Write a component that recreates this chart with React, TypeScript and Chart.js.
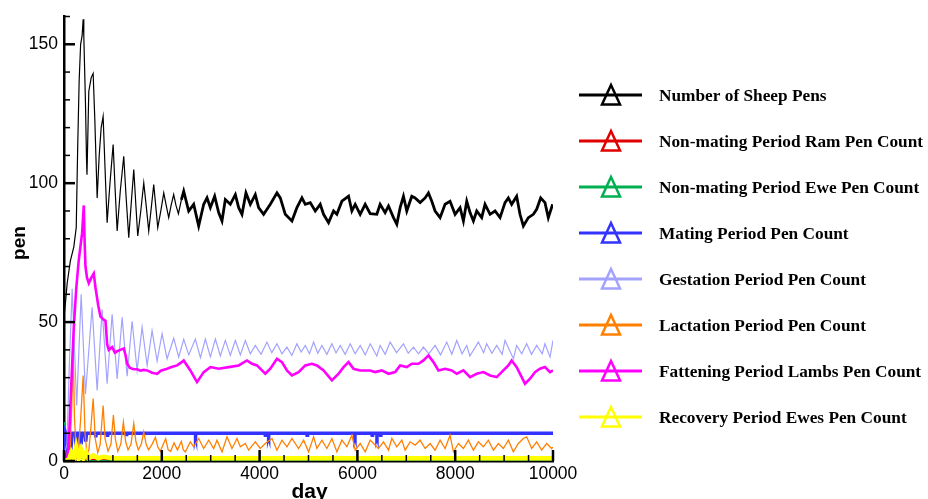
import React, { useEffect, useRef } from 'react';
import { Chart, registerables } from 'chart.js';

Chart.register(...registerables);

// ---------- labels / ticks ----------
const SERIES_LABELS = [
  'Number of Sheep Pens',
  'Non-mating Period Ram Pen Count',
  'Non-mating Period Ewe Pen Count',
  'Mating Period Pen Count',
  'Gestation Period Pen Count',
  'Lactation Period Pen Count',
  'Fattening Period Lambs Pen Count',
  'Recovery Period Ewes Pen Count',
];
const SERIES_COLORS = ['#000000', '#e00000', '#00b050', '#3333ff', '#a3a3ff', '#ff8000', '#ff00ff', '#ffff00'];
const X_MAJOR_TICKS = [0, 2000, 4000, 6000, 8000, 10000];
const X_MINOR_TICKS = [500, 1000, 1500, 2500, 3000, 3500, 4500, 5000, 5500, 6500, 7000, 7500, 8500, 9000, 9500];
const Y_MAJOR_TICKS = [0, 50, 100, 150];
const Y_MINOR_TICKS = [10, 20, 30, 40, 60, 70, 80, 90, 110, 120, 130, 140, 160];

// ---------- series data (day, value) ----------
const blackDays = [0, 30, 65, 130, 200, 250, 280, 310, 340, 370, 392, 405, 439, 460, 470, 507, 556, 596, 630, 678, 720, 760, 800, 840, 882, 940, 1005, 1045, 1087, 1150, 1222, 1270, 1324, 1380, 1427, 1470, 1508, 1570, 1631, 1680, 1733, 1790, 1835, 1870, 1917, 1980, 2040, 2090, 2141, 2190, 2243, 2290, 2340, 2400, 2448, 2550, 2652, 2754, 2857, 2925, 2993, 3081, 3163, 3231, 3299, 3401, 3504, 3572, 3640, 3721, 3810, 3912, 3980, 4082, 4219, 4355, 4423, 4525, 4661, 4763, 4866, 4934, 5036, 5138, 5240, 5308, 5410, 5512, 5580, 5683, 5819, 5887, 5955, 6057, 6159, 6262, 6397, 6465, 6567, 6636, 6738, 6806, 6874, 6942, 7010, 7112, 7180, 7283, 7385, 7453, 7521, 7589, 7691, 7793, 7895, 7998, 8100, 8168, 8236, 8304, 8372, 8440, 8542, 8610, 8713, 8815, 8917, 9019, 9087, 9155, 9257, 9325, 9394, 9496, 9598, 9666, 9748, 9836, 9904, 9993];
const blackVals = [52, 57, 64, 72, 77, 84, 113, 137, 150, 153, 159, 153, 129, 109, 103, 133, 138, 139.5, 123, 94.7, 110, 120, 124, 105, 85.8, 100, 113.9, 98, 82.8, 97, 109.7, 95, 80.4, 94, 104.9, 92, 81, 90, 100.1, 92, 82.8, 92, 99.5, 93, 84, 90, 96.5, 92, 87.6, 92, 95.9, 92, 89, 94, 97.1, 90.0, 92.4, 84.6, 92.4, 94.7, 91.2, 95.3, 89.4, 86.4, 94.1, 92.4, 95.9, 91.2, 88.8, 96.5, 92.4, 95.9, 91.2, 88.8, 92.4, 96.5, 94.7, 88.8, 86.4, 91.2, 94.7, 92.4, 93.0, 90.0, 92.4, 88.8, 85.8, 90.0, 88.8, 93.5, 95.3, 90.0, 92.4, 88.8, 92.4, 89.0, 88.8, 92.4, 89.4, 91.8, 87.6, 85.2, 91.2, 95.3, 90.0, 95.3, 94.7, 93.0, 94.7, 96.5, 93.5, 90.0, 87.6, 92.4, 93.5, 88.8, 91.2, 86.4, 93.5, 89.4, 86.4, 90.0, 87.6, 92.4, 88.8, 90.0, 87.6, 93.0, 94.7, 92.4, 95.3, 88.8, 84.6, 87.6, 88.8, 90.6, 94.7, 93.0, 87.6, 92.4];

const redDays = [0, 100, 200, 300, 400, 500, 600, 800, 10000];
const redVals = [0, 1, 0.5, 2, 0.5, 1, 0.5, 0.5, 0.5];

const greenDays = [0, 20, 40, 60, 80, 10000];
const greenVals = [14, 12, 5, 1, 0, 0];

const blueDays = [0, 15, 40, 60, 85, 120, 140, 165, 230, 250, 270, 330, 350, 370, 430, 445, 460, 640, 650, 660, 880, 890, 900, 1270, 1280, 1290, 2680, 2690, 2700, 4105, 4115, 4125, 4175, 4185, 4195, 4960, 4970, 4980, 5940, 5950, 5960, 6290, 6300, 6310, 6390, 6400, 6410, 6460, 6470, 6480, 10000];
const blueVals = [0, 11, 10, 3, 10, 10, 4, 10, 10, 5, 10, 10, 6, 10, 10, 7, 10, 10, 8.5, 10, 10, 8.7, 10, 10, 9, 10, 10, 9.2, 10, 10, 9.3, 10, 10, 9.3, 10, 10, 9.3, 10, 10, 9.3, 10, 10, 9.3, 10, 10, 9.3, 10, 10, 9.3, 10, 10];

const gestDays = [0, 60, 110, 167, 260, 351, 439, 575, 678, 780, 882, 984, 1087, 1189, 1291, 1393, 1495, 1597, 1700, 1801, 1904, 2006, 2108, 2244, 2346, 2448, 2551, 2686, 2790, 2891, 2993, 3095, 3197, 3299, 3401, 3504, 3606, 3708, 3810, 3912, 4030, 4150, 4250, 4355, 4457, 4559, 4660, 4763, 4850, 4934, 5020, 5104, 5190, 5274, 5376, 5478, 5563, 5649, 5750, 5853, 5955, 6057, 6160, 6262, 6397, 6465, 6568, 6670, 6800, 6942, 7040, 7146, 7250, 7351, 7460, 7589, 7700, 7827, 7930, 8032, 8140, 8236, 8300, 8474, 8580, 8644, 8750, 8849, 8960, 9019, 9190, 9257, 9360, 9462, 9560, 9666, 9780, 9836, 9940, 10000];
const gestVals = [2, 6, 35, 62, 20, 60, 24, 55.3, 25.4, 54.5, 27.8, 52.8, 29.5, 51.7, 30.5, 50.3, 32.6, 48.2, 34.4, 46.9, 36.0, 45.8, 36.8, 44.2, 37.4, 43.8, 38.2, 43.9, 37.2, 43.9, 37.5, 43.9, 37.8, 43.4, 38.0, 43.4, 38.2, 43.4, 38.6, 41.6, 38.4, 42.8, 39.0, 42.2, 38.6, 41.0, 38.0, 42.2, 39.2, 41.6, 38.6, 42.8, 38.8, 41.6, 38.4, 42.2, 38.9, 41.6, 38.4, 42.2, 38.6, 41.6, 38.2, 42.2, 37.8, 41.6, 38.4, 42.8, 39.0, 42.2, 38.8, 41.0, 38.6, 41.0, 38.6, 41.6, 38.2, 42.8, 38.4, 43.4, 38.6, 41.6, 37.8, 42.8, 39.0, 42.2, 38.8, 41.6, 38.4, 43.4, 36.8, 41.6, 38.6, 42.2, 38.4, 41.6, 38.6, 42.2, 37.4, 43.4];

const lactDays = [0, 120, 160, 187, 215, 255, 300, 340, 392, 430, 470, 510, 550, 596, 640, 690, 740, 800, 840, 900, 960, 1010, 1050, 1100, 1160, 1215, 1260, 1310, 1370, 1427, 1470, 1520, 1580, 1631, 1680, 1730, 1800, 1869, 1920, 1970, 2030, 2080, 2130, 2180, 2250, 2320, 2400, 2440, 2482, 2584, 2652, 2754, 2857, 2959, 3061, 3129, 3231, 3333, 3435, 3538, 3606, 3708, 3776, 3912, 4014, 4116, 4253, 4355, 4457, 4559, 4661, 4797, 4900, 5002, 5104, 5172, 5274, 5376, 5478, 5581, 5683, 5785, 5887, 5955, 6057, 6159, 6262, 6431, 6533, 6636, 6704, 6806, 6908, 6976, 7078, 7180, 7283, 7385, 7487, 7589, 7691, 7793, 7895, 7964, 8066, 8168, 8270, 8372, 8474, 8576, 8679, 8781, 8883, 8985, 9087, 9189, 9291, 9394, 9462, 9564, 9666, 9768, 9870, 9972, 10000];
const lactVals = [0, 2, 20, 41, 15, 1.5, 5, 15, 30.8, 10, 2.5, 4, 12, 22.5, 8, 3, 6, 20, 8, 3.5, 6, 16.5, 8, 3.5, 6, 14, 7, 4, 6, 13.5, 7, 4, 6, 10.5, 6, 4, 6, 8.5, 5, 3.5, 6, 8, 4, 3.5, 6.5, 4, 7, 4, 3.3, 6.9, 5.1, 8.1, 4.5, 7.5, 4.5, 7.5, 3.3, 8.7, 4.5, 8.1, 5.1, 6.3, 3.9, 6.9, 4.5, 6.3, 8.1, 3.9, 7.5, 5.1, 8.1, 4.5, 7.5, 3.3, 8.7, 4.5, 7.5, 4.5, 8.1, 3.3, 7.5, 5.1, 9.3, 3.9, 6.3, 3.3, 7.5, 4.5, 6.9, 3.9, 8.1, 5.1, 7.5, 3.9, 6.9, 5.7, 7.5, 4.5, 6.3, 3.9, 7.5, 4.5, 9.3, 3.3, 6.3, 4.5, 7.5, 3.9, 6.9, 5.1, 7.5, 3.9, 6.3, 4.5, 7.5, 3.3, 6.3, 8.1, 8.7, 4.5, 6.9, 3.9, 6.3, 4.5, 5.0];

const fatDays = [0, 60, 100, 150, 200, 250, 300, 370, 405, 420, 439, 470, 507, 560, 609, 643, 700, 746, 800, 848, 882, 916, 984, 1040, 1087, 1150, 1222, 1260, 1291, 1350, 1427, 1500, 1560, 1630, 1700, 1800, 1905, 1980, 2108, 2200, 2312, 2400, 2448, 2584, 2720, 2857, 2993, 3163, 3367, 3572, 3742, 3844, 3946, 4116, 4219, 4355, 4457, 4559, 4661, 4797, 4934, 5070, 5172, 5308, 5478, 5615, 5717, 5819, 5921, 6057, 6194, 6261, 6363, 6499, 6636, 6772, 6874, 7010, 7112, 7249, 7351, 7453, 7555, 7657, 7793, 7930, 8032, 8168, 8304, 8440, 8576, 8713, 8849, 8985, 9087, 9155, 9257, 9360, 9428, 9530, 9632, 9734, 9836, 9938, 10000];
const fatVals = [0, 0, 7, 28, 48, 62, 72, 82, 92, 80, 70, 66, 64, 66, 67.5, 62.5, 56, 52, 51, 50.5, 42, 40, 41, 39, 39.5, 40, 40.5, 38, 35, 33.5, 33, 33, 32.5, 32.8, 32.6, 31.8, 31.4, 32.5, 33.2, 33.8, 34.4, 35.5, 36.2, 32.6, 28.4, 32.0, 33.8, 33.2, 33.8, 34.4, 36.2, 35.0, 34.4, 31.4, 33.2, 36.8, 35.6, 32.6, 30.8, 32.0, 34.4, 35.0, 34.4, 32.6, 29.0, 31.4, 33.8, 35.6, 33.2, 32.6, 32.6, 32.6, 32.0, 32.6, 31.4, 32.0, 34.4, 33.8, 35.0, 35.0, 36.2, 38.0, 35.6, 32.6, 33.2, 32.6, 31.4, 32.6, 30.2, 31.4, 32.0, 30.8, 30.2, 32.6, 34.4, 36.2, 33.8, 30.2, 27.8, 29.6, 32.0, 33.2, 33.8, 32.0, 32.6];

const recDays = [0, 100, 150, 200, 250, 300, 350, 400, 450, 500, 600, 700, 800, 1000, 10000];
const recVals = [0, 0.5, 3, 1, 5, 1, 4, 1, 3, 1, 2, 1, 1.5, 1, 1];

const SERIES_DAYS = [blackDays, redDays, greenDays, blueDays, gestDays, lactDays, fatDays, recDays];
const SERIES_VALS = [blackVals, redVals, greenVals, blueVals, gestVals, lactVals, fatVals, recVals];
const SERIES_WIDTHS = [1.2, 1.5, 1.5, 3.5, 1.2, 1.3, 2.6, 4.5];

const FONT_SANS = '"Liberation Sans", Arial, sans-serif';
const FONT_SERIF = '"Liberation Serif", "Times New Roman", serif';

const decorPlugin = {
  id: 'decor',
  afterDatasetsDraw(chart: any) {
    const ctx = chart.ctx as CanvasRenderingContext2D;
    const xs = chart.scales.x;
    const ys = chart.scales.y;
    const { left, bottom } = chart.chartArea;
    ctx.save();
    ctx.strokeStyle = '#000';
    ctx.lineCap = 'butt';
    const drawX = (v: number, len: number, w: number) => {
      const px = xs.getPixelForValue(v);
      ctx.lineWidth = w;
      ctx.beginPath();
      ctx.moveTo(px, bottom);
      ctx.lineTo(px, bottom - len);
      ctx.stroke();
    };
    const drawY = (v: number, len: number, w: number) => {
      const py = ys.getPixelForValue(v);
      ctx.lineWidth = w;
      ctx.beginPath();
      ctx.moveTo(left, py);
      ctx.lineTo(left + len, py);
      ctx.stroke();
    };
    X_MAJOR_TICKS.forEach((v) => drawX(v, 11, 2.5));
    X_MINOR_TICKS.forEach((v) => drawX(v, 6, 1.5));
    Y_MAJOR_TICKS.forEach((v) => drawY(v, 11, 2.5));
    Y_MINOR_TICKS.forEach((v) => drawY(v, 6, 1.5));
    ctx.restore();
  },
  afterDraw(chart: any) {
    const ctx = chart.ctx as CanvasRenderingContext2D;
    ctx.save();
    // axis titles
    ctx.fillStyle = '#000';
    ctx.font = `bold 21px ${FONT_SANS}`;
    ctx.textAlign = 'center';
    ctx.textBaseline = 'alphabetic';
    const xs = chart.scales.x;
    ctx.fillText('day', (xs.left + xs.right) / 2 + 1, 498);
    ctx.save();
    ctx.translate(25, 243);
    ctx.rotate(-Math.PI / 2);
    ctx.font = `bold 19px ${FONT_SANS}`;
    ctx.fillText('pen', 0, 0);
    ctx.restore();

    // legend
    chart.data.datasets.forEach((ds: any, i: number) => {
      const y = 95 + i * 46;
      ctx.strokeStyle = ds.borderColor;
      ctx.lineWidth = 3;
      ctx.beginPath();
      ctx.moveTo(579, y);
      ctx.lineTo(642, y);
      ctx.stroke();
      ctx.lineWidth = 2.5;
      ctx.lineJoin = 'miter';
      ctx.beginPath();
      ctx.moveTo(611, y - 10);
      ctx.lineTo(620, y + 9.5);
      ctx.lineTo(602, y + 9.5);
      ctx.closePath();
      ctx.stroke();
      ctx.fillStyle = '#000';
      ctx.font = `bold 17.3px ${FONT_SERIF}`;
      ctx.textAlign = 'left';
      ctx.textBaseline = 'alphabetic';
      ctx.fillText(ds.label, 659, y + 6);
    });
    ctx.restore();
  },
};

export default function App() {
  const ref = useRef<HTMLCanvasElement>(null);
  useEffect(() => {
    if (!ref.current) return;
    const datasets = SERIES_LABELS.map((label, i) => ({
      label,
      data: SERIES_DAYS[i].map((d, j) => ({ x: d, y: SERIES_VALS[i][j] })),
      borderColor: SERIES_COLORS[i],
      backgroundColor: SERIES_COLORS[i],
      borderWidth: SERIES_WIDTHS[i],
      pointRadius: 0,
      tension: 0,
      fill: false,
      order: SERIES_LABELS.length - 1 - i,
      segment: i === 0 ? { borderWidth: (c: any) => (c.p0.parsed.x >= 2400 ? 2.8 : 1.2) } : undefined,
    }));
    const chart = new Chart(ref.current, {
      type: 'line',
      data: { datasets },
      options: {
        animation: false,
        responsive: false,
        maintainAspectRatio: false,
        layout: { padding: { left: 0, right: 375, top: 14, bottom: 0 } },
        plugins: { legend: { display: false }, tooltip: { enabled: false } },
        scales: {
          x: {
            type: 'linear',
            min: 0,
            max: 10000,
            grid: { display: false, drawTicks: false },
            border: { display: true, color: '#000', width: 2.5 },
            ticks: {
              stepSize: 2000,
              color: '#000',
              padding: 3,
              maxRotation: 0,
              autoSkip: false,
              font: { family: FONT_SANS, size: 17.5 },
              callback: (v: any) => String(v),
            },
            afterFit: (s: any) => {
              s.height = 38;
            },
          },
          y: {
            type: 'linear',
            min: 0,
            max: 160,
            grid: { display: false, drawTicks: false },
            border: { display: true, color: '#000', width: 2.5 },
            ticks: {
              stepSize: 50,
              color: '#000',
              padding: 6,
              font: { family: FONT_SANS, size: 17.5 },
              callback: (v: any) => String(v),
            },
            afterBuildTicks: (s: any) => {
              s.ticks = s.ticks.filter((t: any) => t.value % 50 === 0);
            },
            afterFit: (s: any) => {
              s.width = 64;
            },
          },
        },
      },
      plugins: [decorPlugin],
    } as any);
    return () => chart.destroy();
  }, []);
  return (
    <canvas
      ref={ref}
      width={928}
      height={499}
      style={{ position: 'fixed', left: 0, top: 0, width: 928, height: 499, background: '#fff' }}
    />
  );
}
